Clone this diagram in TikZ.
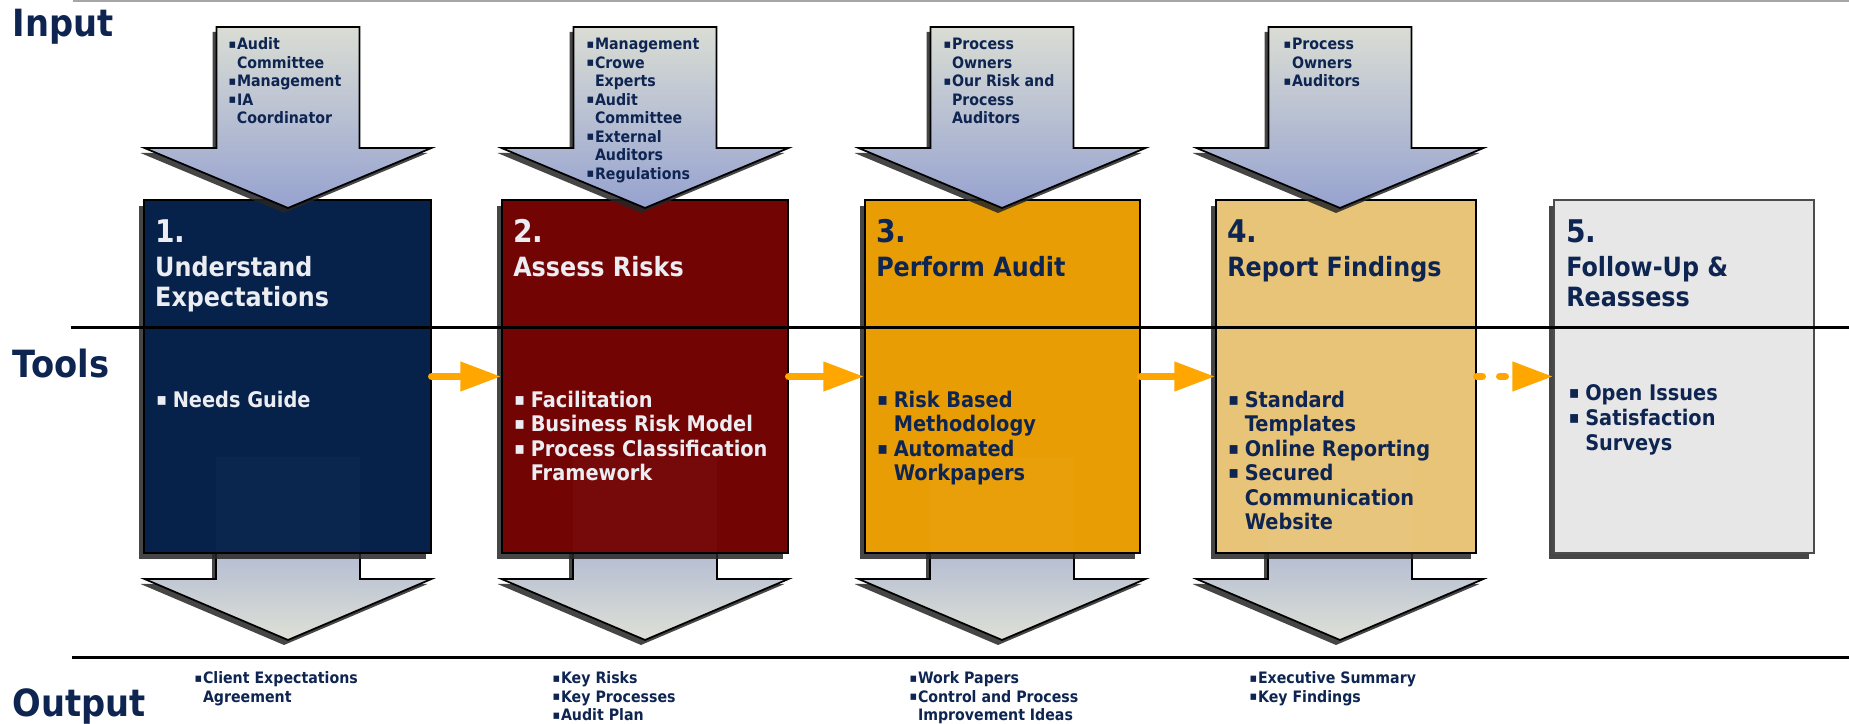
\documentclass[tikz,border=0pt]{standalone}
\usepackage{fontspec}
\setmainfont{DejaVu Sans}[FakeStretch=0.9]
\usetikzlibrary{positioning, arrows.meta, shadows}

\definecolor{navytext}{RGB}{14,37,82}
\definecolor{lighttext}{RGB}{236,237,242}
\definecolor{stageone}{RGB}{6,33,74}
\definecolor{stagetwo}{RGB}{115,4,4}
\definecolor{stagethree}{RGB}{232,157,5}
\definecolor{stagefour}{RGB}{232,196,121}
\definecolor{stagefive}{RGB}{231,231,231}
\definecolor{flowline}{RGB}{255,166,0}
\definecolor{intop}{RGB}{218,221,212}
\definecolor{inbottom}{RGB}{150,162,208}
\definecolor{outtop}{RGB}{178,187,210}
\definecolor{outbottom}{RGB}{222,224,214}

% viñetas cuadradas y líneas alineadas por la primera línea
\newcommand{\insq}{\makebox[3.4pt][l]{\raisebox{0.6pt}{\fontsize{5}{5}\selectfont ▪}}}
\newcommand{\inindent}{\hspace*{3.4pt}}
\newcommand{\toolsq}{\makebox[6.6pt][l]{\raisebox{0.8pt}{\fontsize{7}{7}\selectfont ▪}}}
\newcommand{\toolindent}{\hspace*{6.6pt}}
\newcommand{\textlines}[1]{\begin{tabular}[t]{@{}l@{}}#1\end{tabular}}

\begin{document}
\begin{tikzpicture}[x=0.4pt, y=-0.4pt]
		% Estilos de bloques, textos y flechas
		\tikzset{
			stage/.style={
					rectangle, draw=black, line width=0.6pt,
					minimum height=141.2pt, inner sep=0pt,
					drop shadow={shadow xshift=-2pt, shadow yshift=-2.4pt, opacity=0.85, fill=black!85}
				},
			number/.style={font=\fontsize{12.5}{14}\selectfont\bfseries, inner sep=0pt, anchor=base west},
			title/.style={font=\fontsize{10.6}{12}\selectfont\bfseries, inner sep=0pt, anchor=base west},
			tools/.style={font=\fontsize{8.6}{9.8}\selectfont\bfseries, inner sep=0pt, anchor=base west},
			feed/.style={font=\fontsize{6.3}{7.4}\selectfont\bfseries, text=navytext, inner sep=0pt, anchor=base west},
			row/.style={font=\fontsize{15}{18}\selectfont\bfseries, text=navytext, inner sep=0pt, anchor=base west},
			flow/.style={draw=flowline, line width=3pt, line cap=round, -{Triangle[length=16.4pt, width=11.2pt]}},
			divider/.style={draw=black, line width=1.2pt},
			inarrow/.pic={
					\path[draw=black, line width=0.7pt, top color=intop, bottom color=inbottom,
						drop shadow={shadow xshift=-1.6pt, shadow yshift=-2pt, opacity=0.85, fill=black!85}]
					(-71.5,27) -- (71.5,27) -- (71.5,148) -- (143.5,148) -- (0,208)
					-- (-143.5,148) -- (-71.5,148) -- cycle;
				},
			outarrow/.pic={
					\path[draw=black, line width=0.7pt, top color=outtop, bottom color=outbottom,
						drop shadow={shadow xshift=-1.6pt, shadow yshift=-2pt, opacity=0.85, fill=black!85}]
					(-72,548) -- (72,548) -- (72,579) -- (143.5,579) -- (0,640)
					-- (-143.5,579) -- (-72,579) -- cycle;
				}
		}
		\useasboundingbox (0,0) rectangle (1849,724);

		\draw[gray!70, line width=0.8pt] (73,1) -- (1849,1);

		% Flechas de salida (detrás de los bloques)
		\foreach \cx in {288, 645, 1002, 1340} {
				\pic at (\cx,0) {outarrow};
			}

		% Bloques de cada etapa
		\node[stage, fill=stageone, minimum width=114.8pt] (b1) at (287.5,376.5) {};
		\node[stage, fill=stagetwo, minimum width=114.4pt] (b2) at (645,376.5) {};
		\node[stage, fill=stagethree, minimum width=110pt] (b3) at (1002.5,376.5) {};
		\node[stage, fill=stagefour, minimum width=104pt] (b4) at (1346,376.5) {};
		\node[stage, fill=stagefive, draw=black!70, minimum width=104pt] (b5) at (1684,376.5) {};

		\foreach \cx in {288, 645, 1002, 1340} {
				\fill[white, opacity=0.025] (\cx-72,457) rectangle (\cx+72,552);
			}

		% Flechas de entrada
		\foreach \cx in {288, 645, 1002, 1340} {
				\pic at (\cx,0) {inarrow};
			}

		\draw[divider] (71,328) -- (1849,328);
		\draw[divider] (72,658) -- (1849,658);

		% Filas
		\node[row] (input) at (12,37) {Input};
		\node[row] (toolsrow) at (12,378) {Tools};
		\node[row] (output) at (12,717) {Output};

		% Textos de las etapas
		\node[below right=17.2pt and 4.6pt of b1.north west, number, text=lighttext] (n1) {1.};
		\node[below right=30.8pt and 4.6pt of b1.north west, title, text=lighttext] (t1) {\textlines{Understand\\Expectations}};
		\node[below right=83.2pt and 5pt of b1.north west, tools, text=lighttext] (k1) {\toolsq Needs Guide};

		\node[below right=17.2pt and 4.6pt of b2.north west, number, text=lighttext] (n2) {2.};
		\node[below right=30.8pt and 4.6pt of b2.north west, title, text=lighttext] (t2) {Assess Risks};
		\node[below right=83.2pt and 5pt of b2.north west, tools, text=lighttext] (k2)
			{\textlines{\toolsq Facilitation\\\toolsq Business Risk Model\\\toolsq Process Classification\\\toolindent Framework}};

		\node[below right=17.2pt and 4.6pt of b3.north west, number, text=navytext] (n3) {3.};
		\node[below right=30.8pt and 4.6pt of b3.north west, title, text=navytext] (t3) {Perform Audit};
		\node[below right=83.2pt and 5pt of b3.north west, tools, text=navytext] (k3)
			{\textlines{\toolsq Risk Based\\\toolindent Methodology\\\toolsq Automated\\\toolindent Workpapers}};

		\node[below right=17.2pt and 4.6pt of b4.north west, number, text=navytext] (n4) {4.};
		\node[below right=30.8pt and 4.6pt of b4.north west, title, text=navytext] (t4) {Report Findings};
		\node[below right=83.2pt and 5pt of b4.north west, tools, text=navytext] (k4)
			{\textlines{\toolsq Standard\\\toolindent Templates\\\toolsq Online Reporting\\\toolsq Secured\\\toolindent Communication\\\toolindent Website}};

		\node[below right=17.2pt and 5pt of b5.north west, number, text=navytext] (n5) {5.};
		\node[below right=30.8pt and 5pt of b5.north west, title, text=navytext] (t5) {\textlines{Follow-Up \&\\Reassess}};
		\node[below right=80.4pt and 6pt of b5.north west, tools, text=navytext, font=\fontsize{8.6}{10}\selectfont\bfseries] (k5)
			{\textlines{\toolsq Open Issues\\\toolsq Satisfaction\\\toolindent Surveys}};

		% Entradas
		\node[feed] (in1) at (228,50) {\textlines{\insq Audit\\\inindent Committee\\\insq Management\\\insq IA\\\inindent Coordinator}};
		\node[feed] (in2) at (586,50) {\textlines{\insq Management\\\insq Crowe\\\inindent Experts\\\insq Audit\\\inindent Committee\\\insq External\\\inindent Auditors\\\insq Regulations}};
		\node[feed] (in3) at (943,50) {\textlines{\insq Process\\\inindent Owners\\\insq Our Risk and\\\inindent Process\\\inindent Auditors}};
		\node[feed] (in4) at (1283,50) {\textlines{\insq Process\\\inindent Owners\\\insq Auditors}};

		% Salidas
		\node[feed] (out1) at (194,684) {\textlines{\insq Client Expectations\\\inindent Agreement}};
		\node[feed] (out2) at (552,684) {\textlines{\insq Key Risks\\\insq Key Processes\\\insq Audit Plan}};
		\node[feed] (out3) at (909,684) {\textlines{\insq Work Papers\\\insq Control and Process\\\inindent Improvement Ideas}};
		\node[feed] (out4) at (1249,684) {\textlines{\insq Executive Summary\\\insq Key Findings}};

		% Flujo entre etapas
		\foreach \from/\to in {b1/b2, b2/b3, b3/b4} {
				\draw[flow] (\from) -- (\to);
			}
		\draw[flow, dash pattern=on 2.2pt off 7pt] (b4) -- (b5);
	\end{tikzpicture}
\end{document}
